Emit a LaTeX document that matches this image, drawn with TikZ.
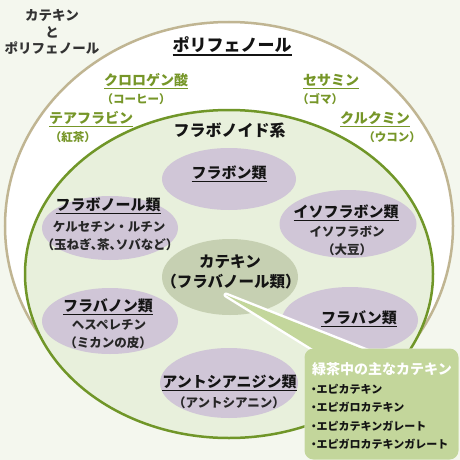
\documentclass[tikz,border=0pt]{standalone}
\usepackage{fontspec}
\setmainfont{Noto Sans CJK JP}[RawFeature=+halt]
\usetikzlibrary{shapes.geometric}
\definecolor{bgc}{RGB}{244,247,238}
\definecolor{tanc}{RGB}{192,181,146}
\definecolor{gline}{RGB}{112,150,40}
\definecolor{gfill}{RGB}{232,240,220}
\definecolor{lav}{RGB}{208,198,215}
\definecolor{catc}{RGB}{198,208,178}
\definecolor{callc}{RGB}{195,214,155}
\definecolor{gtext}{RGB}{118,150,40}
\definecolor{ink}{RGB}{20,20,20}
\newsavebox\ulbox
\newcommand{\myul}[1]{\leavevmode\sbox\ulbox{#1}\rlap{\rule[-0.25em]{\wd\ulbox}{0.075em}}\usebox\ulbox}
\tikzset{
  txt/.style={inner sep=0pt, text=ink},
  tl/.style={txt, font=\bfseries\fontsize{13.5}{13.5}\selectfont, text height=11.9pt, text depth=1.6pt, text=black!80},
  big/.style={txt, font=\bfseries\fontsize{17}{17}\selectfont, text height=15pt, text depth=2pt},
  fnd/.style={txt, font=\bfseries\fontsize{16}{16}\selectfont, text height=14.1pt, text depth=1.9pt},
  head/.style={txt, font=\bfseries\fontsize{15}{15}\selectfont, text height=13.2pt, text depth=1.8pt},
  sub/.style={txt, font=\bfseries\fontsize{12.5}{12.5}\selectfont, text height=11pt, text depth=1.5pt, text=black!85},
  cattxt/.style={txt, font=\bfseries\fontsize{15.5}{15.5}\selectfont, text height=13.6pt, text depth=1.9pt},
  glab/.style={txt, text=gtext, font=\bfseries\fontsize{14}{14}\selectfont, text height=12.3pt, text depth=1.7pt},
  gsub/.style={txt, text=gtext, font=\bfseries\fontsize{11.5}{11.5}\selectfont, text height=10.1pt, text depth=1.4pt},
  ctitle/.style={txt, text=white, font=\bfseries\fontsize{14}{14}\selectfont, text height=12.3pt, text depth=1.7pt},
  citem/.style={txt, anchor=west, font=\bfseries\fontsize{11}{11}\selectfont, text height=9.7pt, text depth=1.3pt},
  blob/.style n args={2}{ellipse, draw=none, fill=lav, inner sep=0pt, minimum width=#1, minimum height=#2},
}
\begin{document}
\begin{tikzpicture}[x=1pt,y=-1pt]
\useasboundingbox (0,0) rectangle (460,460);
\fill[bgc] (0,0) rectangle (460,460);
% outer and inner rings
\node[ellipse, draw=tanc, line width=2.5pt, fill=white, inner sep=0pt, minimum width=448pt, minimum height=408pt] (poly) at (229,226) {};
\node[ellipse, draw=gline, line width=2.5pt, fill=gfill, inner sep=0pt, minimum width=408pt, minimum height=328pt] (flav) at (229,274) {};
% sub-class ellipses
\node[blob={134pt}{62pt}] (flavone) at (229,179) {};
\node[blob={136pt}{64pt}] (flavonol) at (110,228) {};
\node[blob={137pt}{68pt}] (iso) at (348,224) {};
\node[blob={136pt}{66pt}] (flavanone) at (110,321) {};
\node[blob={136pt}{66pt}] (flavan) at (350,320) {};
\node[blob={138pt}{70pt}] (antho) at (229,383) {};
\node[blob={136pt}{76pt}, fill=catc] (cat) at (230,277) {};
% top-left caption
\node[tl] (tl1) at (52,15) {カテキン};
\node[tl] (tl2) at (52,32) {と};
\node[tl] (tl3) at (52,48) {ポリフェノール};
% polyphenol labels
\node[big] (polyt) at (232,45) {\myul{ポリフェノール}};
\node[glab] (g1) at (146,80) {\myul{クロロゲン酸}};
\node[gsub] (g1s) at (136,99) {（コーヒー）};
\node[glab] (g2) at (91,118) {\myul{テアフラビン}};
\node[gsub] (g2s) at (73,137) {（紅茶）};
\node[glab] (g3) at (331,80) {\myul{セサミン}};
\node[gsub] (g3s) at (320,99) {（ゴマ）};
\node[glab] (g4) at (375,118) {\myul{クルクミン}};
\node[gsub] (g4s) at (392,137) {（ウコン）};
% flavonoid labels
\node[fnd] (flavt) at (229.5,130) {フラボノイド系};
\node[head] (flavonet) at (229,173) {\myul{フラボン類}};
\node[head] (flavonolt) at (108,205) {\myul{フラボノール類}};
\node[sub] (flavonol1) at (109,227) {\addfontfeatures{RawFeature=-halt}ケルセチン・ルチン};
\node[sub] (flavonol2) at (110,245) {（玉ねぎ、茶、ソバなど）};
\node[head] (isot) at (346,212) {\myul{イソフラボン類}};
\node[sub] (iso1) at (347,232) {イソフラボン};
\node[sub] (iso2) at (347,250) {（大豆）};
\node[cattxt] (catt1) at (230,262) {カテキン};
\node[cattxt] (catt2) at (231,282) {（フラバノール類）};
\node[head] (flavanonet) at (108,306) {\myul{フラバノン類}};
\node[sub] (flavanone1) at (109,325) {ヘスペレチン};
\node[sub] (flavanone2) at (108,343) {（ミカンの皮）};
\node[head] (flavant) at (359,318) {\myul{フラバン類}};
\node[head] (anthot) at (229.5,382) {\myul{アントシアニジン類}};
\node[sub] (antho1) at (229,403) {（アントシアニン）};
% callout
\coordinate (ptip) at (226,295);
\coordinate (pa) at (331,360);
\coordinate (pb) at (390,360);
\path[draw=white, line width=5pt, line join=round] (ptip) -- (pa) -- (pb) -- cycle;
\node[rectangle, rounded corners=9pt, draw=white, line width=5pt, minimum width=149pt, minimum height=106pt, inner sep=0pt] (callout) at (381.5,404) {};
\fill[callc] (ptip) -- (pa) -- (pb) -- cycle;
\fill[callc, rounded corners=9pt] (callout.north west) rectangle (callout.south east);
\node[ctitle] (ct) at (382,369) {緑茶中の主なカテキン};
\node[citem] (c1) at (311,389) {・エピカテキン};
\node[citem] (c2) at (311,407) {・エピガロカテキン};
\node[citem] (c3) at (311,426) {・エピカテキンガレート};
\node[citem] (c4) at (311,444) {・エピガロカテキンガレート};
\end{tikzpicture}
\end{document}
